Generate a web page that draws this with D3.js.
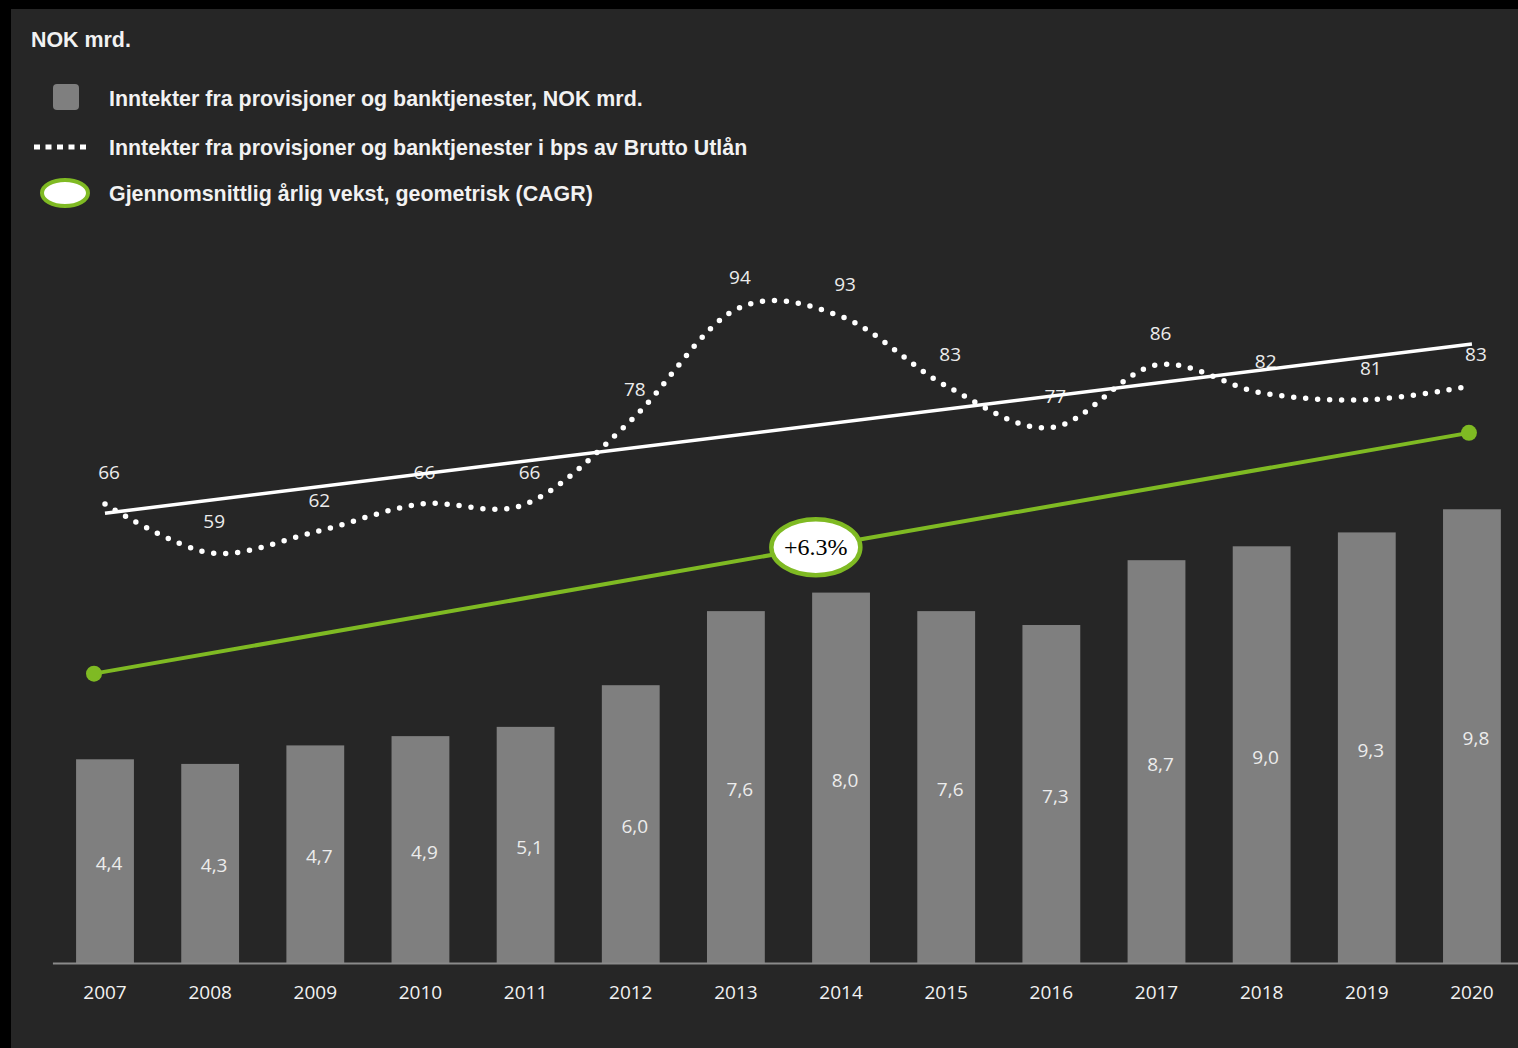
<!DOCTYPE html>
<html>
<head>
<meta charset="utf-8">
<script src="https://cdn.jsdelivr.net/npm/d3@7"></script>
<style>
  html, body { margin: 0; padding: 0; background: #000; }
  svg { display: block; }
</style>
</head>
<body>
<svg id="chart" width="1518" height="1048"></svg>
<script>
// Fee and commission income, 2007–2020
const years = [2007, 2008, 2009, 2010, 2011, 2012, 2013, 2014, 2015, 2016, 2017, 2018, 2019, 2020];
const income = [4.4, 4.3, 4.7, 4.9, 5.1, 6.0, 7.6, 8.0, 7.6, 7.3, 8.7, 9.0, 9.3, 9.8];   // NOK mrd.
const bps = [66, 59, 62, 66, 66, 78, 94, 93, 83, 77, 86, 82, 81, 83];                // bps of gross loans
const cagrLabel = "+6.3%";
// Growth arrow, expressed in units of the income axis
const cagrLine = [{ year: 2007, value: 6.25, dx: -11 }, { year: 2020, value: 11.45, dx: -3 }];
const legendLabels = [
  "Inntekter fra provisjoner og banktjenester, NOK mrd.",
  "Inntekter fra provisjoner og banktjenester i bps av Brutto Utlån",
  "Gjennomsnittlig årlig vekst, geometrisk (CAGR)"
];
const unitTitle = "NOK mrd.";

const fmtComma = d3.format(".1f");
const commaNum = v => fmtComma(v).replace(".", ",");

const svg = d3.select("#chart");
const W = 1518, H = 1048;
const BG = "#262626", BAR = "#7f7f7f", GREEN = "#7fba23", TXT = "#f2f2f2";

// Panel background (black frame on the top and left edges)
svg.append("rect").attr("x", 11).attr("y", 9).attr("width", W - 11).attr("height", H - 9).attr("fill", BG);

// Scales
const base = 963;
const step = 105.15;
const x = d3.scaleBand()
  .domain(years)
  .range([105 - step / 2, 105 + step * 13 + step / 2])
  .paddingInner(0.45)
  .paddingOuter(0.225);
const xc = y => x(y) + x.bandwidth() / 2;
const yBar = d3.scaleLinear().domain([0, 10]).range([base, 500]);
const yBps = d3.scaleLinear().domain([0, 100]).range([base, base - 695.3]);

// Bars
svg.append("g").selectAll("rect")
  .data(years.map((yr, i) => ({ yr, v: income[i] })))
  .join("rect")
  .attr("x", d => x(d.yr))
  .attr("y", d => yBar(d.v))
  .attr("width", x.bandwidth())
  .attr("height", d => yBar(0) - yBar(d.v))
  .attr("fill", BAR);

// Category axis
const axis = svg.append("g")
  .attr("transform", `translate(0,${base})`)
  .call(d3.axisBottom(x).tickSize(0).tickSizeOuter(0).tickPadding(22.5));
axis.select(".domain").attr("stroke", "#8a8a8a").attr("stroke-width", 2);
axis.selectAll("text")
  .attr("fill", TXT)
  .style("font-family", "'Open Sans', sans-serif")
  .style("font-size", "19px");

// Bar value labels, centred in each bar
svg.append("g").selectAll("text")
  .data(years.map((yr, i) => ({ yr, v: income[i] })))
  .join("text")
  .attr("x", d => xc(d.yr) + 4)
  .attr("y", d => (yBar(d.v) + yBar(0)) / 2 + 9)
  .attr("text-anchor", "middle")
  .attr("fill", "#ececec")
  .style("font-family", "'Open Sans', sans-serif")
  .style("font-size", "19px")
  .text(d => commaNum(d.v));

// bps value labels above the curve
svg.append("g").selectAll("text")
  .data(years.map((yr, i) => ({ yr, v: bps[i] })))
  .join("text")
  .attr("x", d => xc(d.yr) + 4)
  .attr("y", d => yBps(d.v) - 25)
  .attr("text-anchor", "middle")
  .attr("fill", "#ececec")
  .style("font-family", "'Open Sans', sans-serif")
  .style("font-size", "19px")
  .text(d => d.v);

// CAGR arrow
const gp = cagrLine.map(d => [xc(d.year) + d.dx, yBar(d.value)]);
svg.append("line")
  .attr("x1", gp[0][0]).attr("y1", gp[0][1])
  .attr("x2", gp[1][0]).attr("y2", gp[1][1])
  .attr("stroke", GREEN).attr("stroke-width", 4);
svg.append("g").selectAll("circle").data(gp).join("circle")
  .attr("cx", d => d[0]).attr("cy", d => d[1]).attr("r", 8).attr("fill", GREEN);

// Smoothed bps curve (dotted)
const pts = years.map((yr, i) => [xc(yr), yBps(bps[i])]);
svg.append("path")
  .attr("d", d3.line().curve(d3.curveCardinal.tension(0))(pts))
  .attr("fill", "none")
  .attr("stroke", "#fff")
  .attr("stroke-width", 5.5)
  .attr("stroke-linecap", "round")
  .attr("stroke-dasharray", "0 12");

// Linear trend of the bps series (least squares)
const n = bps.length;
const idx = d3.range(1, n + 1);
const mx = d3.mean(idx), my = d3.mean(bps);
const slope = d3.sum(idx, (t, i) => (t - mx) * (bps[i] - my)) / d3.sum(idx, t => (t - mx) ** 2);
const icpt = my - slope * mx;
svg.append("line")
  .attr("x1", xc(years[0])).attr("y1", yBps(icpt + slope * 1))
  .attr("x2", xc(years[n - 1])).attr("y2", yBps(icpt + slope * n))
  .attr("stroke", "#fff").attr("stroke-width", 3.5);

// CAGR badge on the arrow
const t = 0.525;
const bx = gp[0][0] + (gp[1][0] - gp[0][0]) * t;
const by = gp[0][1] + (gp[1][1] - gp[0][1]) * t;
svg.append("ellipse")
  .attr("cx", bx).attr("cy", by).attr("rx", 44.5).attr("ry", 28)
  .attr("fill", "#fff").attr("stroke", GREEN).attr("stroke-width", 4.5);
svg.append("text")
  .attr("x", bx).attr("y", by + 8)
  .attr("text-anchor", "middle")
  .attr("fill", "#000")
  .style("font-family", "'Liberation Serif', 'DejaVu Serif', serif")
  .style("font-size", "24px")
  .text(cagrLabel);

// Title and legend
const legendFont = "'Liberation Sans', Arial, sans-serif";
svg.append("text")
  .attr("x", 31).attr("y", 47)
  .attr("fill", TXT)
  .style("font-family", legendFont).style("font-weight", "bold").style("font-size", "21.4px")
  .text(unitTitle);

const lg = svg.append("g");
lg.append("rect").attr("x", 53).attr("y", 84).attr("width", 26).attr("height", 26).attr("rx", 4).attr("fill", BAR);
lg.append("line").attr("x1", 34).attr("x2", 87).attr("y1", 147).attr("y2", 147)
  .attr("stroke", "#fff").attr("stroke-width", 5).attr("stroke-dasharray", "6 5.5");
lg.append("ellipse").attr("cx", 65).attr("cy", 193).attr("rx", 23).attr("ry", 13)
  .attr("fill", "#fff").attr("stroke", GREEN).attr("stroke-width", 4);
lg.selectAll("text.lg").data(legendLabels).join("text")
  .attr("class", "lg")
  .attr("x", 109)
  .attr("y", (d, i) => [106, 155, 201][i])
  .attr("fill", TXT)
  .style("font-family", legendFont).style("font-weight", "bold").style("font-size", "21.4px")
  .text(d => d);
</script>
</body>
</html>
